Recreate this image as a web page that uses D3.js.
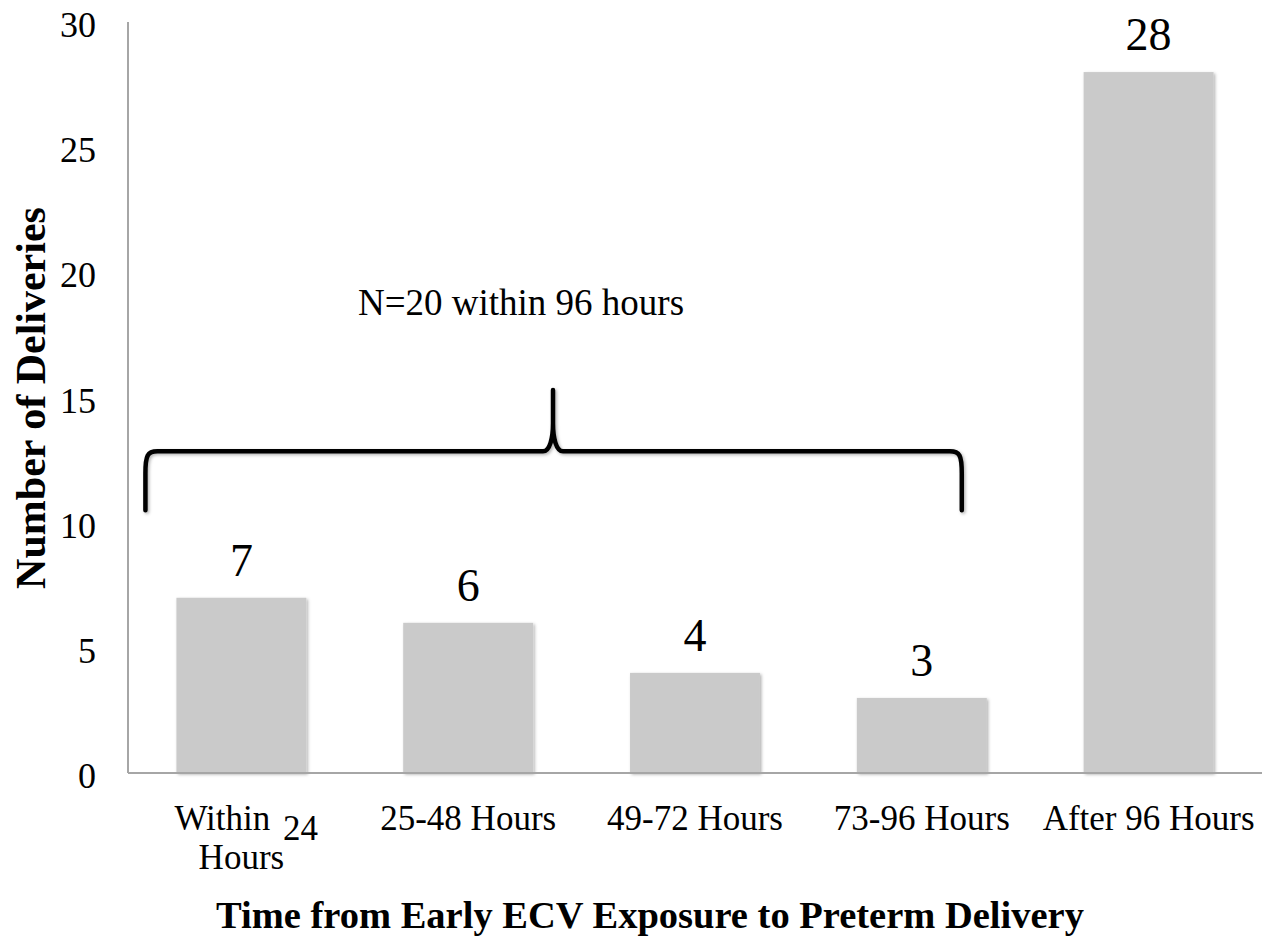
<!DOCTYPE html>
<html><head><meta charset="utf-8">
<script src="https://cdn.jsdelivr.net/npm/d3@7"></script>
<style>body{margin:0;background:#fff}svg{display:block}text{font-family:"Liberation Serif","Times New Roman",serif}</style>
</head><body><svg id="c" width="1275" height="938"></svg>
<script>
const categories = ["Within 24 Hours", "25-48 Hours", "49-72 Hours", "73-96 Hours", "After 96 Hours"];
const values = [7, 6, 4, 3, 28];
const yTicks = [0, 5, 10, 15, 20, 25, 30];
const annotation = "N=20 within 96 hours";
const xTitle = "Time from Early ECV Exposure to Preterm Delivery";
const yTitle = "Number of Deliveries";

const svg = d3.select("#c");
const m = {l:128, r:1262, t:22, b:773};
const x = d3.scaleBand().domain(categories).range([m.l, m.r]).paddingInner(0.427).paddingOuter(0.2135);
const y = d3.scaleLinear().domain([0, 30]).range([m.b, m.t]);

const defs = svg.append("defs");
const f = defs.append("filter").attr("id","sh").attr("x","-10%").attr("y","-10%").attr("width","130%").attr("height","130%");
f.append("feDropShadow").attr("dx",1.5).attr("dy",1.5).attr("stdDeviation",1.5).attr("flood-color","#000").attr("flood-opacity",0.3);

// bars
svg.append("g").selectAll("rect").data(values).join("rect")
  .attr("x",(d,i)=>x(categories[i])).attr("width",x.bandwidth())
  .attr("y",d=>y(d)).attr("height",d=>y(0)-y(d))
  .attr("fill","#cacaca").attr("filter","url(#sh)");

// axes
svg.append("line").attr("x1",m.l).attr("x2",m.l).attr("y1",m.t).attr("y2",m.b).attr("stroke","#a6a6a6").attr("stroke-width",2);
svg.append("line").attr("x1",m.l).attr("x2",m.r).attr("y1",m.b).attr("y2",m.b).attr("stroke","#a6a6a6").attr("stroke-width",2);

svg.append("g").selectAll("text").data(yTicks).join("text")
  .attr("x",96).attr("y",d=>y(d)+15).attr("text-anchor","end")
  .attr("font-size",36).text(d=>d);

// value labels
svg.append("g").selectAll("text").data(values).join("text")
  .attr("x",(d,i)=>x(categories[i])+x.bandwidth()/2).attr("y",d=>y(d)-22)
  .attr("text-anchor","middle").attr("font-size",46).text(d=>d);

// x category labels
const xl = svg.append("g");
categories.forEach((c,i)=>{
  const cx = x(c)+x.bandwidth()/2;
  if(i===0){
    const parts = c.split(" ");
    xl.append("text").attr("x",cx-19).attr("y",830).attr("text-anchor","middle").attr("font-size",35).text(parts[0]);
    xl.append("text").attr("x",cx+59).attr("y",840).attr("text-anchor","middle").attr("font-size",35).text(parts[1]);
    xl.append("text").attr("x",cx).attr("y",869).attr("text-anchor","middle").attr("font-size",35).text(parts[2]);
  } else {
    xl.append("text").attr("x",cx).attr("y",830).attr("text-anchor","middle").attr("font-size",35).text(c);
  }
});

// titles
svg.append("text").attr("x",650).attr("y",928).attr("text-anchor","middle").attr("font-size",38.5).attr("font-weight","bold").text(xTitle);
svg.append("text").attr("transform","translate(45,398) rotate(-90)").attr("text-anchor","middle").attr("font-size",42).attr("font-weight","bold").text(yTitle);

// annotation
svg.append("text").attr("x",521).attr("y",315).attr("text-anchor","middle").attr("font-size",37).text(annotation);

// bracket
const xL = x(categories[0]) - 31, xR = x(categories[3]) + x.bandwidth() - 25;
const xC = 553;
const yB = y(10.5), yH = y(12.85), yP = y(15.3);
const p = d3.path();
p.moveTo(xL, yB);
p.lineTo(xL, yH+22);
p.bezierCurveTo(xL, yH+4, xL+2, yH, xL+12, yH);
p.lineTo(xC-10, yH);
p.bezierCurveTo(xC-3, yH, xC, yH-14, xC, yH-28);
p.lineTo(xC, yP);
p.moveTo(xC, yH-28);
p.bezierCurveTo(xC, yH-14, xC+3, yH, xC+10, yH);
p.lineTo(xR-12, yH);
p.bezierCurveTo(xR-2, yH, xR, yH+4, xR, yH+22);
p.lineTo(xR, yB);
svg.append("path").attr("d",p.toString()).attr("fill","none").attr("stroke","#000").attr("stroke-width",4.5)
  .attr("stroke-linecap","round").attr("stroke-linejoin","round").attr("filter","url(#sh)");
</script></body></html>
